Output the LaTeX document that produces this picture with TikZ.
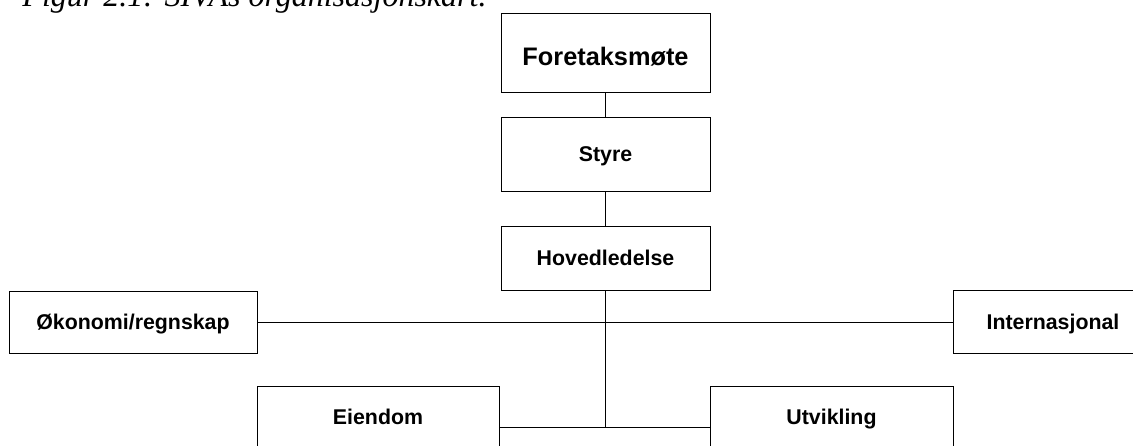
\documentclass[tikz,border=0pt]{standalone}
\usepackage{fontspec}
\setmainfont{Liberation Sans}
\newfontfamily\capfont{Liberation Serif}

\tikzset{every picture/.style={line width=0.75pt}}
\tikzset{
  unit/.style={draw, inner sep=0pt, text height=11.5pt, text depth=0pt, font=\fontsize{16}{19}\selectfont\bfseries},
  topunit/.style={unit, text height=19pt, font=\fontsize{19}{23}\selectfont\bfseries},
}

\begin{document}
\begin{tikzpicture}[x=0.75pt,y=0.75pt,yscale=-1,xscale=1]
	\useasboundingbox (0,0) rectangle (1133,446);
	\clip (0,0) rectangle (1133,446);

	% Caption
	\node[anchor=base west, inner sep=0pt, font=\capfont\itshape\fontsize{24}{28}\selectfont] (cap) at (22,7) {Figur 2.1: SIVAs organisasjonskart.};

	%Shape: boxes
	\node[topunit, minimum width=156.75pt, minimum height=59.25pt] (fore) at (605.5,52.5) {Foretaksmøte};
	\node[unit, minimum width=156.75pt, minimum height=55.5pt] (styre) at (605.5,154) {Styre};
	\node[unit, minimum width=156.75pt, minimum height=48pt] (hoved) at (605.5,258) {Hovedledelse};
	\node[unit, minimum width=186pt, minimum height=46.5pt] (okon) at (133,322) {Økonomi/regnskap};
	\node[unit, minimum width=150pt, minimum height=47.25pt] (inter) at (1053,322) {Internasjonal};
	\node[unit, minimum width=181.5pt, minimum height=46.5pt] (eien) at (378,417) {Eiendom};
	\node[unit, minimum width=182.25pt, minimum height=46.5pt] (utv) at (831.5,417) {Utvikling};

	\coordinate (jb) at (605.5,427);

	%Straight Lines
	\draw (fore) -- (styre);
	\draw (styre) -- (hoved);
	\draw (okon.east) -- (okon.east -| inter.west);
	\draw (hoved.south) -- (hoved.south |- jb);
	\draw (eien.east |- jb) -- (utv.west |- jb);

\end{tikzpicture}
\end{document}
